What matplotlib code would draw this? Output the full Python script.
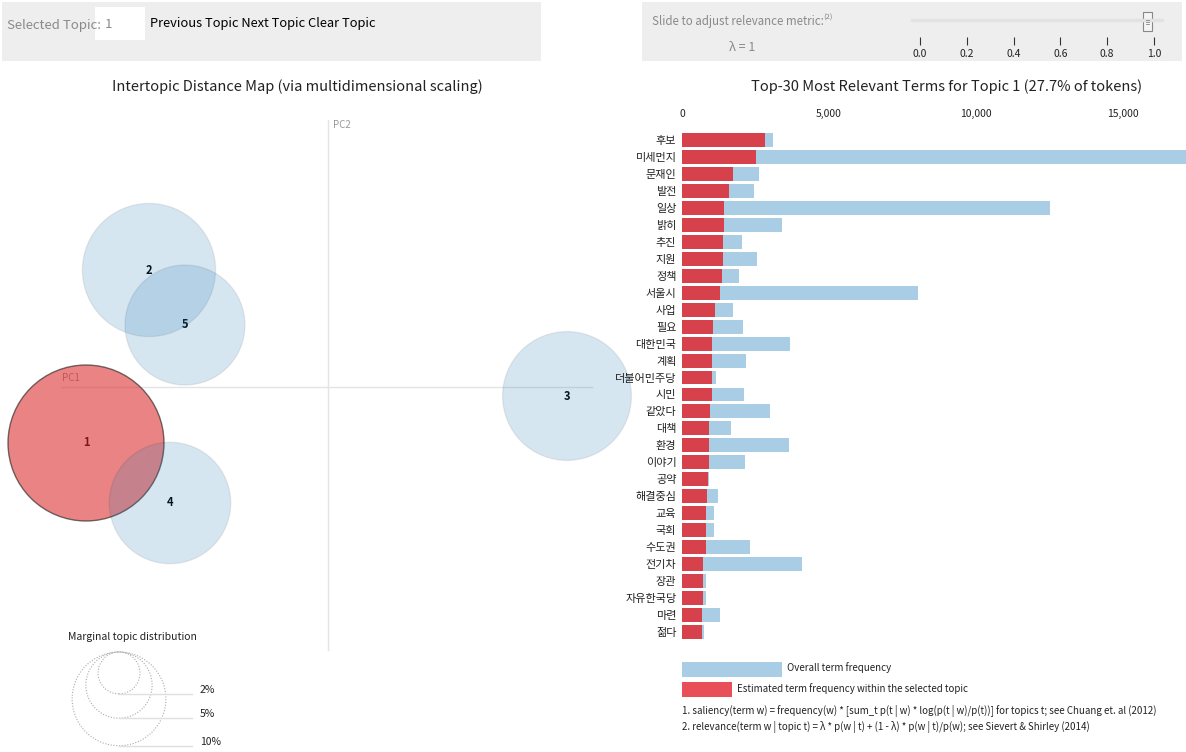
import matplotlib
matplotlib.use("Agg")
import matplotlib.pyplot as plt
from matplotlib.patches import Circle, Rectangle
from matplotlib.ticker import FuncFormatter
import numpy as np

plt.rcParams['font.family'] = ['Noto Sans CJK KR', 'DejaVu Sans']

# topic map data (MDS coordinates, marginal topic share in %)
topic_ids = [1, 2, 3, 4, 5]
pc1 = [-0.242, -0.179, 0.239, -0.158, -0.143]
pc2 = [-0.056, 0.117, -0.009, -0.116, 0.062]
topic_pct = [27.7, 20.2, 18.9, 16.8, 16.4]
selected = 1
guide_pct = [2, 5, 10]

# top-30 terms for topic 1
terms = ['후보', '미세먼지', '문재인', '발전', '일상', '밝히', '추진', '지원', '정책', '서울시',
         '사업', '필요', '대한민국', '계획', '더불어민주당', '시민', '같았다', '대책', '환경', '이야기',
         '공약', '해결중심', '교육', '국회', '수도권', '전기차', '장관', '자유한국당', '마련', '젊다']
overall_freq = [3100, 17150, 2630, 2440, 12510, 3400, 2040, 2550, 1930, 8020,
                1750, 2090, 3680, 2170, 1150, 2110, 3000, 1660, 3630, 2140,
                920, 1240, 1090, 1080, 2310, 4070, 810, 820, 1290, 760]
topic_freq = [2810, 2530, 1720, 1590, 1430, 1430, 1405, 1395, 1370, 1280,
              1130, 1065, 1025, 1020, 1015, 1010, 965, 922, 918, 905,
              895, 850, 815, 806, 804, 725, 720, 700, 690, 670]

slider_ticks = [0.0, 0.2, 0.4, 0.6, 0.8, 1.0]
lam = 1.0

W, H = 1186, 752
fig = plt.figure(figsize=(W / 100, H / 100), dpi=100)


def fxy(px, py):
    return px / W, 1 - py / H


def box(px, py, w, h, color, z=-1):
    fig.add_artist(Rectangle(fxy(px, py + h), w / W, h / H, transform=fig.transFigure,
                             facecolor=color, edgecolor='none', zorder=z))


gray_txt = '#8a8a8a'

# ---- top controls ----
box(2, 2, 539, 59, '#eeeeee', -2)
box(95, 7, 50, 33, 'white')
fig.text(*fxy(7, 25), 'Selected Topic:', fontsize=9.5, color=gray_txt, va='center')
fig.text(*fxy(105, 24), '1', fontsize=9.5, color=gray_txt, va='center')
fig.text(*fxy(150, 24), 'Previous Topic Next Topic Clear Topic', fontsize=9.3,
         color='#000000', va='center')

box(642, 2, 540, 59, '#eeeeee', -2)
fig.text(*fxy(652, 21), 'Slide to adjust relevance metric:', fontsize=8.3, color=gray_txt, va='center')
fig.text(*fxy(823, 18), '(2)', fontsize=5.5, color=gray_txt, va='center')
fig.text(*fxy(742, 47), 'λ = 1', fontsize=9, color=gray_txt, va='center', ha='center')

x0, y0 = fxy(920, 45)
x1, y1 = fxy(1154, 8)
ax_s = fig.add_axes([x0, y0, x1 - x0, y1 - y0])
ax_s.set_xlim(0, 1)
ax_s.set_ylim(0, 37)
ax_s.patch.set_alpha(0)
for sp in ax_s.spines.values():
    sp.set_visible(False)
ax_s.set_yticks([])
ax_s.set_xticks(slider_ticks)
ax_s.set_xticklabels([f'{t:.1f}' for t in slider_ticks], fontsize=7.5, color='#222222')
ax_s.tick_params(axis='x', direction='in', length=6, width=0.8, color='#333333', pad=3)
ax_s.plot([-0.034, 1.034], [25, 25], color='#e2e2e2', lw=2.5, solid_capstyle='round', clip_on=False)
ax_s.add_patch(Rectangle((lam - 0.028 - 0.019, 14), 0.038, 19, facecolor='#f4f4f4',
                         edgecolor='#888888', lw=0.8, clip_on=False))
for yy in (21.5, 23.5, 25.5):
    ax_s.plot([lam - 0.036, lam - 0.020], [yy, yy], color='#888888', lw=0.6, clip_on=False)

# ---- titles ----
fig.text(*fxy(297, 87), 'Intertopic Distance Map (via multidimensional scaling)',
         fontsize=10.5, ha='center', va='center', color='#222222')
fig.text(*fxy(947, 87), 'Top-30 Most Relevant Terms for Topic 1 (27.7% of tokens)',
         fontsize=10.5, ha='center', va='center', color='#222222')

# ---- intertopic distance map ----
ax = fig.add_axes([0, 0, 600 / W, 1])
ax.set_xlim(-0.328, 0.272)
ax.set_ylim(-0.365, 0.387)
ax.axis('off')
ax.patch.set_alpha(0)

ax.plot([-0.266, 0.264], [0, 0], color='#e4e4e4', lw=1, zorder=1)
ax.plot([0, 0], [0.267, -0.263], color='#e4e4e4', lw=1, zorder=1)
ax.text(-0.266, 0.009, 'PC1', fontsize=7, color='#999999', va='center', zorder=1)
ax.text(0.005, 0.262, 'PC2', fontsize=7, color='#999999', va='center', zorder=1)

k = 0.078 / np.sqrt(topic_pct[0])
for t, x, y, p in zip(topic_ids, pc1, pc2, topic_pct):
    r = k * np.sqrt(p)
    if t == selected:
        fc = (0.86, 0.17, 0.17, 0.58)
        ec = (0.1, 0.1, 0.1, 0.6)
    else:
        fc = (0.12, 0.467, 0.706, 0.18)
        ec = (0.0, 0.0, 0.0, 0.07)
    ax.text(x, y, str(t), fontsize=8, fontweight='bold', ha='center', va='center',
            color='black', zorder=2)
    ax.add_patch(Circle((x, y), r, facecolor=fc, edgecolor=ec, lw=1, zorder=3, clip_on=False))

# marginal topic distribution guide
gx, gtop = -0.209, -0.265
ax.text(-0.196, -0.250, 'Marginal topic distribution', fontsize=7.5, ha='center',
        va='center', color='#222222')
for p in guide_pct:
    r = k * np.sqrt(p)
    ax.add_patch(Circle((gx, gtop - r), r, facecolor='none', edgecolor='#aaaaaa',
                        lw=0.8, ls=(0, (1, 1.5)), clip_on=False))
    ax.plot([gx, -0.136], [gtop - 2 * r, gtop - 2 * r], color='#e0e0e0', lw=1, clip_on=False)
    ax.text(-0.128, gtop - 2 * r + 0.004, f'{p}%', fontsize=7.5, va='center', color='#222222')

# ---- bar chart ----
bx0, by0 = fxy(682, 640.5)
bx1, by1 = fxy(1186, 131.5)
axb = fig.add_axes([bx0, by0, bx1 - bx0, by1 - by0])
axb.patch.set_alpha(0)
ypos = np.arange(len(terms))
axb.barh(ypos, overall_freq, height=0.82, color='#A8CDE5')
axb.barh(ypos, topic_freq, height=0.82, color='#D6414C')
axb.set_xlim(0, 17150)
axb.set_ylim(len(terms) - 0.5, -0.5)
for sp in axb.spines.values():
    sp.set_visible(False)
axb.xaxis.tick_top()
axb.set_xticks([0, 5000, 10000, 15000])
axb.xaxis.set_major_formatter(FuncFormatter(lambda v, _: f'{int(v):,}'))
axb.tick_params(axis='x', length=0, pad=9, labelsize=7.5, labelcolor='#222222')
axb.set_yticks(ypos)
axb.set_yticklabels(terms)
axb.tick_params(axis='y', length=0, pad=4, labelsize=8, labelcolor='#222222')

# legend + notes
box(682, 662, 100, 15, '#A8CDE5')
fig.text(*fxy(787, 668), 'Overall term frequency', fontsize=7, va='center', color='#222222')
box(682, 682, 50, 15, '#E84F58')
fig.text(*fxy(737, 689), 'Estimated term frequency within the selected topic', fontsize=7,
         va='center', color='#222222')
fig.text(*fxy(682, 711), '1. saliency(term w) = frequency(w) * [sum_t p(t | w) * log(p(t | w)/p(t))] '
         'for topics t; see Chuang et. al (2012)', fontsize=7, va='center', color='#222222')
fig.text(*fxy(682, 727), '2. relevance(term w | topic t) = λ * p(w | t) + (1 - λ) * p(w | t)/p(w); '
         'see Sievert & Shirley (2014)', fontsize=7, va='center', color='#222222')

fig.savefig('out.png', dpi=100)
